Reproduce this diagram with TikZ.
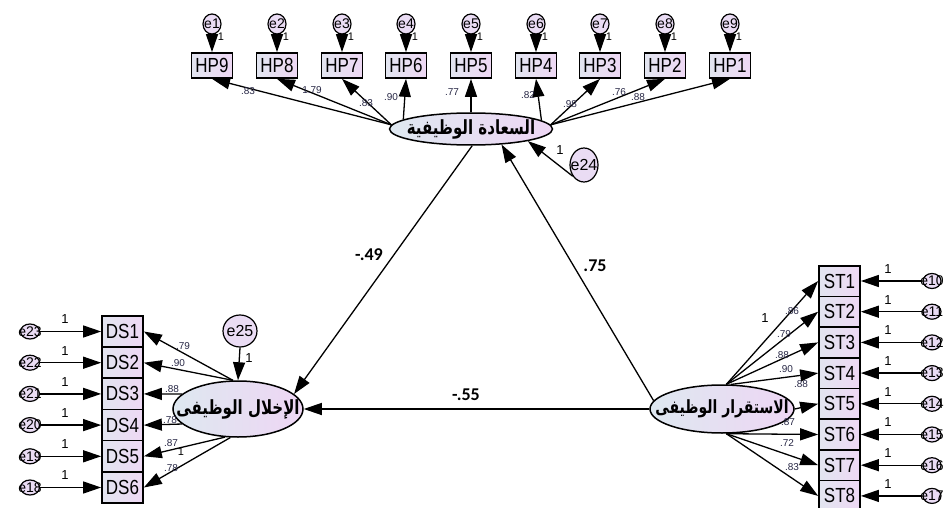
\documentclass[tikz,border=0pt]{standalone}
\usepackage{fontspec}
\usepackage{graphicx}
\setmainfont{Liberation Sans}
\newfontfamily\arabicfont[Script=Arabic]{DejaVu Sans}
\newfontfamily\pathfont{Carlito}
\TeXXeTstate=1
\usetikzlibrary{arrows.meta,shapes.geometric}
\definecolor{boxL}{RGB}{226,229,240}
\definecolor{boxR}{RGB}{238,216,244}
\definecolor{ellL}{RGB}{222,232,240}
\definecolor{ellR}{RGB}{238,214,244}
\definecolor{errfill}{RGB}{234,220,244}
\definecolor{loadcol}{RGB}{40,40,70}
\newcommand{\tallt}[1]{\scalebox{1}[1.2]{#1}}
\newcommand{\tallar}[1]{\scalebox{1}[1.3]{#1}}
\begin{document}
\begin{tikzpicture}[x=1pt,y=-1pt,
  obs/.style={draw,line width=1.7pt,left color=boxL,right color=boxR,
    minimum width=41pt,minimum height=#1,inner sep=0pt,
    font=\fontsize{17}{17}\selectfont},
  latent/.style={draw,ellipse,line width=1.5pt,left color=ellL,right color=ellR,
    minimum width=#1,inner sep=0pt},
  lattext/.style={font=\arabicfont\bfseries\fontsize{15}{15}\selectfont,inner sep=0pt},
  err/.style={draw,ellipse,line width=1.2pt,fill=errfill,inner sep=0pt},
  errlab/.style={font=\fontsize{14}{14}\selectfont,inner sep=0pt},
  arr/.style={line width=1.3pt,-{Triangle[length=18pt,width=12pt]}},
  ld/.style={font=\fontsize{10}{10}\selectfont,text=loadcol,inner sep=0pt},
  one/.style={font=\fontsize{13}{13}\selectfont,inner sep=0pt},
  pth/.style={font=\pathfont\bfseries\fontsize{18}{18}\selectfont,inner sep=0pt}]
\clip (0,0) rectangle (945,508);
\fill[white] (0,0) rectangle (945,508);

% ---------- latent variables ----------
\node[latent=163pt,minimum height=32pt] (sat) at (471,129) {};
\node[lattext] (satlab) at (sat) {\tallar{\beginR السعادة الوظيفية\endR}};
\node[latent=130pt,minimum height=56pt] (dis) at (238,409) {};
\node[lattext] (dislab) at (dis) {\tallar{\beginR الإخلال الوظيفى\endR}};
\node[latent=144pt,minimum height=48pt] (sta) at (722,409) {};
\node[lattext,font=\arabicfont\bfseries\fontsize{14}{14}\selectfont] (stalab) at (sta) {\tallar{\beginR الاستقرار الوظيفى\endR}};

% ---------- top indicators HP ----------
\foreach \n/\x/\e in {9/212/1,8/277/2,7/342/3,6/406/4,5/471/5,4/536/6,3/600/7,2/665/8,1/730/9}{
  \node[obs=25pt] (HP\n) at (\x,65.5) {\tallt{HP\n}};
  \node[err,minimum width=18pt,minimum height=20pt,label={[errlab]center:e\e}] (e\e) at (\x,24) {};
  \draw[arr] (e\e) -- (HP\n.north);
  \node[one,font=\fontsize{11}{11}\selectfont] (o\e) at (\x+9,37) {1};
}
\draw[arr] (sat.177) -- (HP9.south);
\draw[arr] (sat.177) -- (HP8.south);
\draw[arr] (sat.177) -- (HP7.south);
\draw[arr] (sat.172) -- (HP6.south);
\draw[arr] (sat.north) -- (HP5.south);
\draw[arr] (sat.7) -- (HP4.south);
\draw[arr] (sat.3) -- (HP3.south);
\draw[arr] (sat.3) -- (HP2.south);
\draw[arr] (sat.3) -- (HP1.south);
\node[ld] (l9) at (248,91) {.83};
\node[ld] (l8) at (312,90) {1.79};
\node[ld] (l7) at (366,103) {.83};
\node[ld] (l6) at (391,97) {.90};
\node[ld] (l5) at (452,92) {.77};
\node[ld] (l4) at (528,95) {.82};
\node[ld] (l3) at (570,104) {.98};
\node[ld] (l2) at (619,92) {.76};
\node[ld] (l1) at (638,97) {.88};

% e24
\node[err,minimum width=28pt,minimum height=34pt,label={[errlab,font=\fontsize{16}{16}\selectfont]center:e24}] (e24) at (584,165) {};
\draw[arr] (e24.225) -- (sat.-12);
\node[one] (o24) at (560,150) {1};

% ---------- left indicators DS ----------
\foreach \n/\y/\e in {1/331.5/23,2/362.7/22,3/393.9/21,4/425.1/20,5/456.3/19,6/487.5/18}{
  \node[obs=31.5pt] (DS\n) at (122.5,\y) {\tallt{DS\n}};
  \node[err,minimum width=19pt,minimum height=15pt,label={[errlab]center:e\e}] (e\e) at (30,\y) {};
  \draw[arr] (e\e) -- (DS\n.west);
  \node[one] (o\e) at (65,\y-12) {1};
}
\draw[arr] (dis.100) -- (DS1.east);
\draw[arr] (dis.100) -- (DS2.east);
\draw[arr] (dis.165) -- (DS3.east);
\draw[arr] (dis.195) -- (DS4.east);
\draw[arr] (dis.245) -- (DS5.east);
\draw[arr] (dis.255) -- (DS6.east);
\node[ld] (m1) at (183,346) {.79};
\node[ld] (m2) at (178,363) {.90};
\node[ld] (m3) at (172,389) {.88};
\node[ld] (m4) at (170,420) {.78};
\node[ld] (m5) at (171,443) {.87};
\node[one,font=\fontsize{11}{11}\selectfont] (m5b) at (181,452) {1};
\node[ld] (m6) at (171,468) {.78};

% e25
\node[err,minimum width=34pt,minimum height=32pt,label={[errlab,font=\fontsize{16}{16}\selectfont]center:e25}] (e25) at (240,331) {};
\draw[arr] (e25.south) -- (dis.north);
\node[one] (o25) at (249,358) {1};

% ---------- right indicators ST ----------
\foreach \n/\y/\e in {1/281/10,2/311.7/11,3/342.4/12,4/373.1/13,5/403.8/14,6/434.5/15,7/465.2/16,8/495.9/17}{
  \node[obs=30.7pt] (ST\n) at (839.5,\y) {\tallt{ST\n}};
  \node[err,minimum width=18pt,minimum height=15pt,label={[errlab]center:e\e}] (e\e) at (932,\y) {};
  \draw[arr] (e\e) -- (ST\n.east);
  \node[one] (o\e) at (888,\y-12) {1};
}
\draw[arr] (sta.80) -- (ST1.west);
\draw[arr] (sta.80) -- (ST2.west);
\draw[arr] (sta.80) -- (ST3.west);
\draw[arr] (sta.70) -- (ST4.west);
\draw[arr] (sta.east) -- (ST5.west);
\draw[arr] (sta.-80) -- (ST6.west);
\draw[arr] (sta.-80) -- (ST7.west);
\draw[arr] (sta.-80) -- (ST8.west);
\node[one] (n0) at (765,318) {1};
\node[ld] (n1) at (792,311) {.86};
\node[ld] (n2) at (784,334) {.79};
\node[ld] (n3) at (782,355) {.88};
\node[ld] (n4) at (786,369) {.90};
\node[ld] (n5) at (801,384) {.88};
\node[ld] (n6) at (788,422) {.87};
\node[ld] (n7) at (787,443) {.72};
\node[ld] (n8) at (792,467) {.83};

% ---------- structural paths ----------
\draw[arr] (sat.-86) -- (dis.15);
\draw[arr] (sta.173) -- (sat.-27);
\draw[arr] (sta.west) -- (dis.east);
\node[pth] (p1) at (369,255) {-.49};
\node[pth] (p2) at (595,266) {.75};
\node[pth] (p3) at (466,395) {-.55};
\end{tikzpicture}
\end{document}
